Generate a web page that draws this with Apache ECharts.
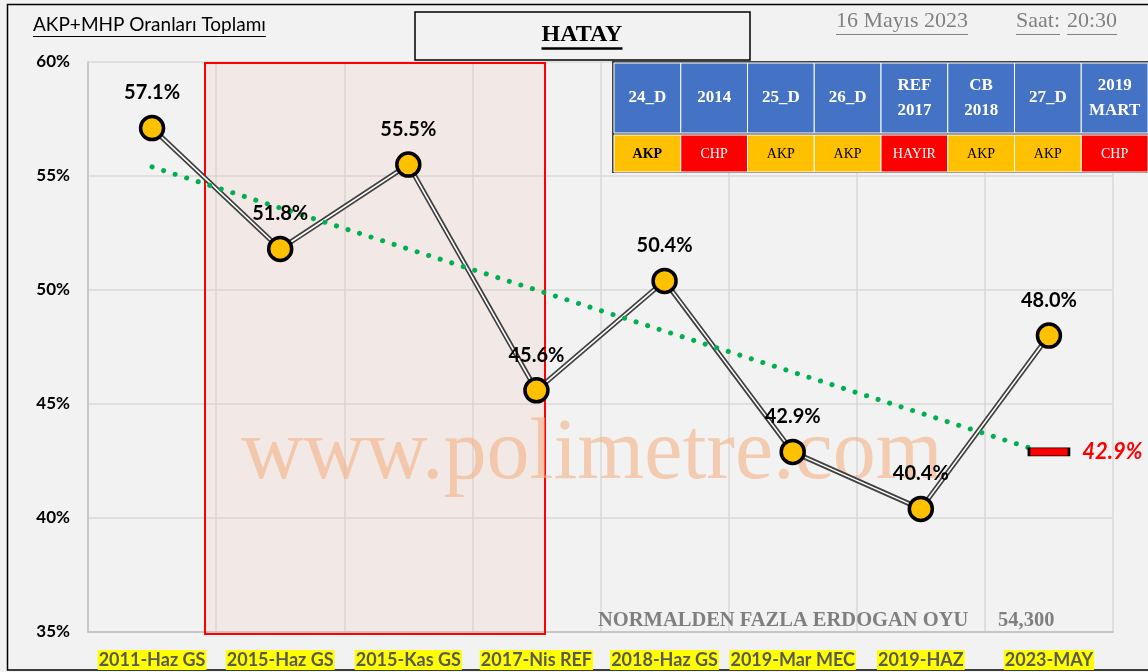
<!DOCTYPE html>
<html>
<head>
<meta charset="utf-8">
<script src="https://cdn.jsdelivr.net/npm/echarts@6/dist/echarts.min.js"></script>
<style>
html, body { margin: 0; padding: 0; background: #F2F2F2; }
#main { width: 1148px; height: 672px; }
</style>
</head>
<body>
<div id="main"></div>
<script>
var categories = ['2011-Haz GS', '2015-Haz GS', '2015-Kas GS', '2017-Nis REF', '2018-Haz GS', '2019-Mar MEC', '2019-HAZ', '2023-MAY'];
var oranlar = [57.1, 51.8, 55.5, 45.6, 50.4, 42.9, 40.4, 48.0];
// trend line ends
var trendStart = 55.4;
var trendEnd = 42.8;
var sonTrend = 42.9;
var yTicks = [35, 40, 45, 50, 55, 60];

var tabloBaslik = ['24_D', '2014', '25_D', '26_D', 'REF\n2017', 'CB\n2018', '27_D', '2019\nMART'];
var tabloKazanan = ['AKP', 'CHP', 'AKP', 'AKP', 'HAYIR', 'AKP', 'AKP', 'CHP'];
var fazlaOy = '54,300';

var trendData = categories.map(function (c, i) {
    if (i === 0) return trendStart;
    if (i === categories.length - 1) return trendEnd;
    return null;
});
var isaretData = categories.map(function (c, i) {
    return i === categories.length - 1 ? sonTrend : null;
});

function textWidth(txt, font) {
    var c = document.createElement('canvas').getContext('2d');
    c.font = font;
    return c.measureText(txt).width;
}

var graphics = [];
// outer frame
graphics.push({ type: 'rect', shape: { x: 7.5, y: 4.5, width: 1150, height: 665.5 }, style: { fill: 'none', stroke: '#000', lineWidth: 1.5 }, z: 0 });
// red band
graphics.push({ type: 'rect', shape: { x: 205, y: 63, width: 340, height: 571 }, style: { fill: 'rgba(242,189,169,0.16)', stroke: '#FF0000', lineWidth: 2 }, z: 1 });
// watermark
graphics.push({ type: 'text', x: 592, y: 455, style: { text: 'www.polimetre.com', font: '86px "Liberation Serif"', fill: 'rgba(244,177,131,0.6)', textAlign: 'center', textVerticalAlign: 'middle' }, z: 1 });

// title
var f1 = '19px Lato';
graphics.push({ type: 'text', x: 33, y: 34, style: { text: 'AKP+MHP Oranları Toplamı', font: f1, fill: '#000', textVerticalAlign: 'bottom' }, z: 5 });
graphics.push({ type: 'line', shape: { x1: 33, y1: 36.5, x2: 33 + textWidth('AKP+MHP Oranları Toplamı', f1), y2: 36.5 }, style: { stroke: '#000', lineWidth: 1 }, z: 5 });

// HATAY box
graphics.push({ type: 'rect', shape: { x: 415, y: 12, width: 335, height: 48 }, style: { fill: 'none', stroke: '#000', lineWidth: 1.5 }, z: 5 });
var f2 = 'bold 24px "Liberation Serif"';
var wH = textWidth('HATAY', f2);
graphics.push({ type: 'text', x: 582, y: 47, style: { text: 'HATAY', font: f2, fill: '#000', textAlign: 'center', textVerticalAlign: 'bottom' }, z: 5 });
graphics.push({ type: 'line', shape: { x1: 582 - wH / 2, y1: 48.5, x2: 582 + wH / 2, y2: 48.5 }, style: { stroke: '#000', lineWidth: 2.5 }, z: 5 });

// date / time
var f3 = '22px "Liberation Serif"';
[['16 Mayıs 2023', 836], ['Saat:', 1016], ['20:30', 1067]].forEach(function (d) {
    graphics.push({ type: 'text', x: d[1], y: 32, style: { text: d[0], font: f3, fill: '#808080', textVerticalAlign: 'bottom' }, z: 5 });
    graphics.push({ type: 'line', shape: { x1: d[1], y1: 34.5, x2: d[1] + textWidth(d[0], f3), y2: 34.5 }, style: { stroke: '#808080', lineWidth: 1 }, z: 5 });
});

// table
var colW = 66.75, tx = 614;
graphics.push({ type: 'rect', shape: { x: 612, y: 61, width: 540, height: 112 }, style: { fill: '#404040' }, z: 5 });
tabloBaslik.forEach(function (b, i) {
    var x = tx + i * colW;
    graphics.push({ type: 'rect', shape: { x: x, y: 63, width: colW, height: 70 }, style: { fill: '#4472C4', stroke: '#FFFFFF', lineWidth: 1 }, z: 6 });
    graphics.push({ type: 'text', x: x + colW / 2, y: 98, style: { text: b, font: 'bold 17px "Liberation Serif"', fill: '#FFFFFF', textAlign: 'center', textVerticalAlign: 'middle', lineHeight: 25 }, z: 7 });
    var k = tabloKazanan[i];
    var akp = k === 'AKP';
    graphics.push({ type: 'rect', shape: { x: x, y: 135, width: colW, height: 37 }, style: { fill: akp ? '#FFC000' : '#FF0000', stroke: '#FFFFFF', lineWidth: 1 }, z: 6 });
    graphics.push({ type: 'text', x: x + colW / 2, y: 154, style: { text: k, font: (i === 0 ? 'bold ' : '') + '14px "Liberation Serif"', fill: akp ? '#000' : '#FFFFFF', textAlign: 'center', textVerticalAlign: 'middle' }, z: 7 });
});

// bottom note
var f4 = 'bold 20.5px "Liberation Serif"';
graphics.push({ type: 'text', x: 598, y: 631, style: { text: 'NORMALDEN FAZLA ERDOGAN OYU', font: f4, fill: '#7F7F7F', textVerticalAlign: 'bottom' }, z: 5 });
graphics.push({ type: 'text', x: 998, y: 631, style: { text: fazlaOy, font: f4, fill: '#7F7F7F', textVerticalAlign: 'bottom' }, z: 5 });

var chart = echarts.init(document.getElementById('main'));
var option = {
    backgroundColor: '#F2F2F2',
    animation: false,
    grid: { left: 88, right: 35, top: 62, bottom: 40 },
    xAxis: {
        type: 'category',
        data: categories,
        boundaryGap: true,
        axisLine: { show: true, lineStyle: { color: '#BFBFBF', width: 1.5 } },
        axisTick: { show: false },
        splitLine: { show: true, lineStyle: { color: '#D9D9D9', width: 1.5 } },
        axisLabel: {
            interval: 0, margin: 18,
            fontFamily: 'Lato', fontWeight: 'bold', fontSize: 18, color: '#595959',
            backgroundColor: '#FFFF00', padding: [1, 1, 1, 1]
        }
    },
    yAxis: {
        type: 'value',
        min: yTicks[0], max: yTicks[yTicks.length - 1], interval: 5,
        axisLine: { show: true, lineStyle: { color: '#BFBFBF', width: 1.5 } },
        axisTick: { show: false },
        splitLine: { show: true, lineStyle: { color: '#D9D9D9', width: 1.5 } },
        axisLabel: { margin: 18, formatter: '{value}%', fontFamily: 'Lato', fontWeight: 'bold', fontSize: 17, color: '#000' }
    },
    series: [
        {
            type: 'line', data: oranlar, z: 3, symbol: 'none', silent: true,
            lineStyle: { color: '#404040', width: 5 }
        },
        {
            type: 'line', data: oranlar, z: 4, symbol: 'none', silent: true,
            lineStyle: { color: '#FFFFFF', width: 1.6 }
        },
        {
            type: 'line', data: trendData, connectNulls: true, z: 5, symbol: 'none',
            lineStyle: { color: '#00B050', width: 5, type: [0.1, 12], cap: 'round' }
        },
        {
            type: 'scatter', data: oranlar, z: 6, symbol: 'circle', symbolSize: 23,
            itemStyle: { color: '#FFC000', borderColor: '#000', borderWidth: 3.5, opacity: 1 },
            label: {
                show: true, position: 'top', distance: 12,
                formatter: function (p) { return p.value.toFixed(1) + '%'; },
                fontFamily: 'Lato', fontWeight: 'bold', fontSize: 20, color: '#000'
            }
        },
        {
            type: 'scatter', data: isaretData, z: 7, symbol: 'rect', symbolSize: [40, 8],
            itemStyle: { color: '#FF0000', borderColor: '#000', borderWidth: 1.2, opacity: 1 },
            label: {
                show: true, position: 'right', distance: 12,
                formatter: function (p) { return p.value.toFixed(1) + '%'; },
                fontFamily: 'Lato', fontWeight: 'bold', fontStyle: 'italic', fontSize: 22, color: '#FF0000'
            }
        }
    ],
    graphic: graphics
};
chart.setOption(option);
</script>
</body>
</html>
